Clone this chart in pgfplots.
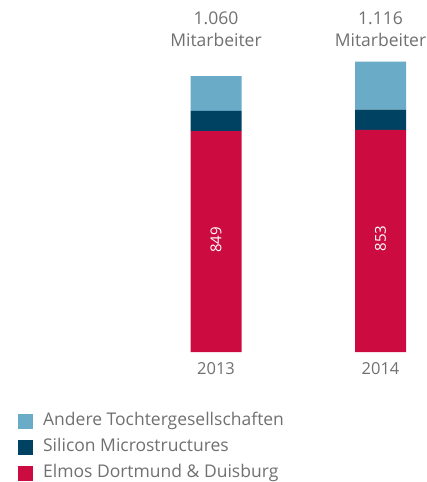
\documentclass[border=0pt]{standalone}
\usepackage{pgfplots}
\pgfplotsset{compat=1.18}
\usepackage{fontspec}
\setmainfont{Open Sans}
\definecolor{lightb}{RGB}{106,171,200}
\definecolor{darkb}{RGB}{0,66,98}
\definecolor{redc}{RGB}{204,12,64}
\definecolor{txt}{RGB}{112,112,112}
\begin{document}
\begin{tikzpicture}
\path[use as bounding box] (0,-130pt) rectangle (427pt,352pt);
\begin{axis}[
  at={(0,0)}, anchor=south west,
  scale only axis, width=427pt, height=352pt,
  xmin=-1.3131, xmax=1.2827, ymin=0, ymax=1352.3,
  axis lines=none,
  ybar stacked, bar width=51pt,
  xtick={0,1}, xticklabels={2013,2014},
  clip=false,
  legend style={at={(axis description cs:0.042,-0.175)}, anchor=north west, draw=none, fill=none,
    font=\fontsize{17.5}{20}\selectfont\color{txt}, row sep=10pt,
    inner sep=0pt, nodes={inner sep=0pt, anchor=west, text height=12pt, text depth=4pt}},
  legend cell align=left,
  reverse legend,
  legend image code/.code={\fill[#1] (0pt,-7.5pt) rectangle (15pt,7.5pt);},
]
\addplot[fill=redc, draw=none] coordinates {(0,849) (1,853)};
\addlegendentry{\hspace{10pt}Elmos Dortmund \& Duisburg}
\addplot[fill=darkb, draw=none] coordinates {(0,77) (1,78)};
\addlegendentry{\hspace{10pt}Silicon Microstructures}
\addplot[fill=lightb, draw=none] coordinates {(0,134) (1,185)};
\addlegendentry{\hspace{10pt}Andere Tochtergesellschaften}
\coordinate (v1) at (axis cs:0,431);
\coordinate (v2) at (axis cs:1,436);
\node[text=txt, font=\fontsize{17.5}{22}\selectfont, align=center] at (axis cs:0,1241) {1.060\\Mitarbeiter};
\node[text=txt, font=\fontsize{17.5}{22}\selectfont, align=center] at (axis cs:1,1241) {1.116\\Mitarbeiter};
\node[text=txt, font=\fontsize{16.5}{19}\selectfont] at (axis cs:0,-65) {2013};
\node[text=txt, font=\fontsize{16.5}{19}\selectfont] at (axis cs:1,-65) {2014};
\end{axis}
\node[rotate=90, text=white, font=\fontsize{15}{18}\selectfont] at (v1) {849};
\node[rotate=90, text=white, font=\fontsize{15}{18}\selectfont] at (v2) {853};
\end{tikzpicture}
\end{document}
